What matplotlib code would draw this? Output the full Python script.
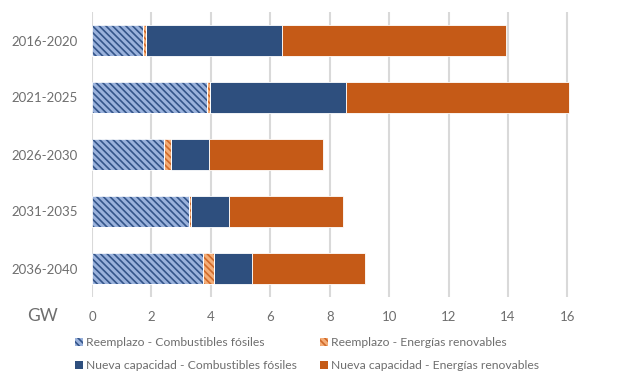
import matplotlib
matplotlib.use("Agg")
import matplotlib.pyplot as plt
from matplotlib.patches import Patch
import numpy as np

plt.rcParams['font.family'] = ['Lato', 'DejaVu Sans']
plt.rcParams['hatch.linewidth'] = 1.2

periods = ["2016-2020", "2021-2025", "2026-2030", "2031-2035", "2036-2040"]
reemplazo_fosiles = [1.73, 3.86, 2.42, 3.28, 3.73]
reemplazo_renovables = [0.10, 0.10, 0.23, 0.05, 0.37]
nueva_fosiles = [4.58, 4.59, 1.30, 1.29, 1.30]
nueva_renovables = [7.52, 7.50, 3.82, 3.81, 3.79]
x_ticks = [0, 2, 4, 6, 8, 10, 12, 14, 16]

navy = "#2E4F7E"
orange = "#C55A17"
light_blue = "#9AB2DC"
stripe_blue = "#34558A"
light_orange = "#F4AE78"
stripe_orange = "#D06A2A"
grid_grey = "#D9D9D9"
text_grey = "#6E6E6E"
hatch_pat = "\\\\\\\\\\"

fig = plt.figure(figsize=(6.22, 3.72), dpi=100)
ax = fig.add_axes([92 / 622, 1 - 297 / 372, (618 - 92) / 622, (297 - 12) / 372])

y = np.arange(len(periods))
h = 0.56
left = np.zeros(len(periods))

def hatched(values, face, stripe):
    global left
    ax.barh(y, values, left=left, height=h, color=face, linewidth=0, zorder=3)
    ax.barh(y, values, left=left, height=h, fill=False, hatch=hatch_pat,
            edgecolor=stripe, linewidth=0, zorder=4)
    ax.barh(y, values, left=left, height=h, fill=False, edgecolor="white",
            linewidth=0.6, zorder=5)
    left = left + np.array(values)

def solid(values, face):
    global left
    ax.barh(y, values, left=left, height=h, color=face, edgecolor="white",
            linewidth=0.6, zorder=3)
    left = left + np.array(values)

hatched(reemplazo_fosiles, light_blue, stripe_blue)
hatched(reemplazo_renovables, light_orange, stripe_orange)
solid(nueva_fosiles, navy)
solid(nueva_renovables, orange)

ax.set_xlim(0, 17.7)
ax.set_ylim(len(periods) - 0.5, -0.5)
ax.set_yticks(y)
ax.set_yticklabels(periods)
ax.set_xticks(x_ticks)
ax.set_xticklabels([str(t) for t in x_ticks])
ax.tick_params(axis='both', length=0, colors=text_grey, labelsize=9.5)
ax.tick_params(axis='x', pad=10)
ax.tick_params(axis='y', pad=10)
ax.xaxis.grid(True, color=grid_grey, linewidth=1.5, zorder=0)
ax.set_axisbelow(True)
for s in ax.spines.values():
    s.set_visible(False)

fig.text(43 / 622, 1 - 316 / 372, "GW", ha="center", va="center",
         fontsize=12.5, color=text_grey)

handles = [
    Patch(facecolor=light_blue, edgecolor=stripe_blue, hatch=hatch_pat, linewidth=0,
          label="Reemplazo - Combustibles fósiles"),
    Patch(facecolor=navy, linewidth=0, label="Nueva capacidad - Combustibles fósiles"),
    Patch(facecolor=light_orange, edgecolor=stripe_orange, hatch=hatch_pat, linewidth=0,
          label="Reemplazo - Energías renovables"),
    Patch(facecolor=orange, linewidth=0, label="Nueva capacidad - Energías renovables"),
]
fig.legend(handles=handles, ncol=2, loc="upper left",
           bbox_to_anchor=(75 / 622, 1 - 337 / 372), frameon=False,
           fontsize=8.7, labelcolor=text_grey, handlelength=0.65,
           handleheight=0.65, handletextpad=0.25, columnspacing=1.9,
           labelspacing=1.0, borderpad=0, borderaxespad=0)

fig.savefig("out.png", dpi=100)
